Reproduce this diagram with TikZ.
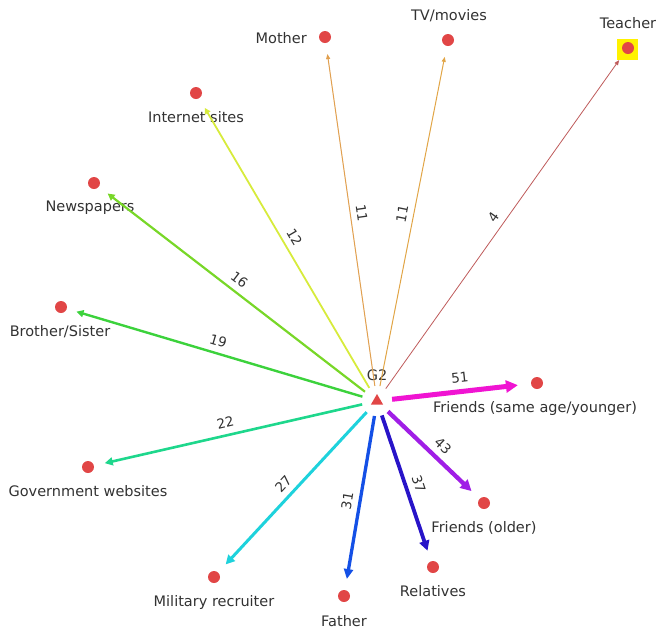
\documentclass[tikz,border=0pt]{standalone}
\usepackage{fontspec}
\setmainfont{DejaVu Sans}
\usetikzlibrary{arrows.meta,shapes.geometric}
\definecolor{cMag}{RGB}{240,20,210}
\definecolor{cPur}{RGB}{160,30,230}
\definecolor{cRel}{RGB}{40,20,200}
\definecolor{cFat}{RGB}{20,80,230}
\definecolor{cMil}{RGB}{30,210,220}
\definecolor{cGov}{RGB}{30,215,140}
\definecolor{cBro}{RGB}{60,210,60}
\definecolor{cNew}{RGB}{120,215,40}
\definecolor{cInt}{RGB}{215,235,60}
\definecolor{cMot}{RGB}{225,160,80}
\definecolor{cTV}{RGB}{225,165,70}
\definecolor{cTea}{RGB}{190,90,90}
\definecolor{cDot}{RGB}{225,70,70}
\definecolor{cTxt}{RGB}{50,50,50}
\tikzset{
  dotnode/.style={circle,fill=cDot,minimum size=12pt,inner sep=0pt},
  lab/.style={text=cTxt,font=\fontsize{14.5}{15}\selectfont,inner sep=0pt},
  num/.style={text=cTxt,font=\fontsize{13.5}{14}\selectfont,pos=0.5,sloped,above,inner sep=6pt},
  link/.style={shorten >=11pt},
}
\begin{document}
\begin{tikzpicture}[x=1pt,y=-1pt]
\useasboundingbox (0,0) rectangle (657,630);
% centre
\node[circle,minimum size=30pt,inner sep=0pt] (g) at (377,401) {};
\node[regular polygon,regular polygon sides=3,fill=cDot,minimum size=14pt,inner sep=0pt] (tri) at (377,401) {};
\node[lab] (g2) at (377,375) {G2};
% targets
\node[fill=yellow,minimum size=21pt,inner sep=0pt] (tsq) at (627,49) {};
\node[dotnode] (tea) at (628,48) {};
\node[dotnode] (tv) at (448,40) {};
\node[dotnode] (mot) at (325,37) {};
\node[dotnode] (int) at (196,93) {};
\node[dotnode] (new) at (94,183) {};
\node[dotnode] (bro) at (61,307) {};
\node[dotnode] (gov) at (88,467) {};
\node[dotnode] (mil) at (214,577) {};
\node[dotnode] (fat) at (344,596) {};
\node[dotnode] (rel) at (433,567) {};
\node[dotnode] (fro) at (484,503) {};
\node[dotnode] (fsa) at (537,383) {};
% labels
\node[lab] (ltea) at (628,23) {Teacher};
\node[lab] (ltv) at (449,16) {TV/movies};
\node[lab,anchor=east] (lmot) at (307,38) {Mother};
\node[lab] (lint) at (196,117) {Internet sites};
\node[lab] (lnew) at (90,208) {Newspapers};
\node[lab] (lbro) at (60,332) {Brother/Sister};
\node[lab] (lgov) at (88,491) {Government websites};
\node[lab] (lmil) at (214,602) {Military recruiter};
\node[lab] (lfat) at (344,621) {Father};
\node[lab] (lrel) at (433,591) {Relatives};
\node[lab] (lfro) at (484,528) {Friends (older)};
\node[lab] (lfsa) at (535,408) {Friends (same age/younger)};
% connectors
\draw[cTea,line width=0.8pt,-{Triangle[length=5pt,width=4pt]},shorten >=0.5pt] (g) -- (tsq) node[num] {4};
\draw[cTV,line width=1pt,-{Triangle[length=5pt,width=4pt]},link] (g) -- (tv) node[num] {11};
\draw[cMot,line width=1pt,-{Triangle[length=5pt,width=4pt]},link] (g) -- (mot) node[num] {11};
\draw[cInt,line width=1.8pt,-{Triangle[length=6pt,width=6pt]},link] (g) -- (int) node[num] {12};
\draw[cNew,line width=2.2pt,-{Triangle[length=7pt,width=7pt]},link] (g) -- (new) node[num] {16};
\draw[cBro,line width=2.4pt,-{Triangle[length=7pt,width=7pt]},shorten >=10pt] (g) -- (bro) node[num] {19};
\draw[cGov,line width=2.6pt,-{Triangle[length=8pt,width=8pt]},link] (g) -- (gov) node[num] {22};
\draw[cMil,line width=3pt,-{Triangle[length=9pt,width=9pt]},link] (g) -- (mil) node[num] {27};
\draw[cFat,line width=3.3pt,-{Triangle[length=10pt,width=9pt]},link] (g) -- (fat) node[num] {31};
\draw[cRel,line width=3.8pt,-{Triangle[length=10pt,width=10pt]},link] (g) -- (rel) node[num] {37};
\draw[cPur,line width=4.3pt,-{Triangle[length=11pt,width=11pt]},link] (g) -- (fro) node[num] {43};
\draw[cMag,line width=5pt,-{Triangle[length=12pt,width=12pt]},shorten >=13pt] (g) -- (fsa) node[num] {51};
\end{tikzpicture}
\end{document}
